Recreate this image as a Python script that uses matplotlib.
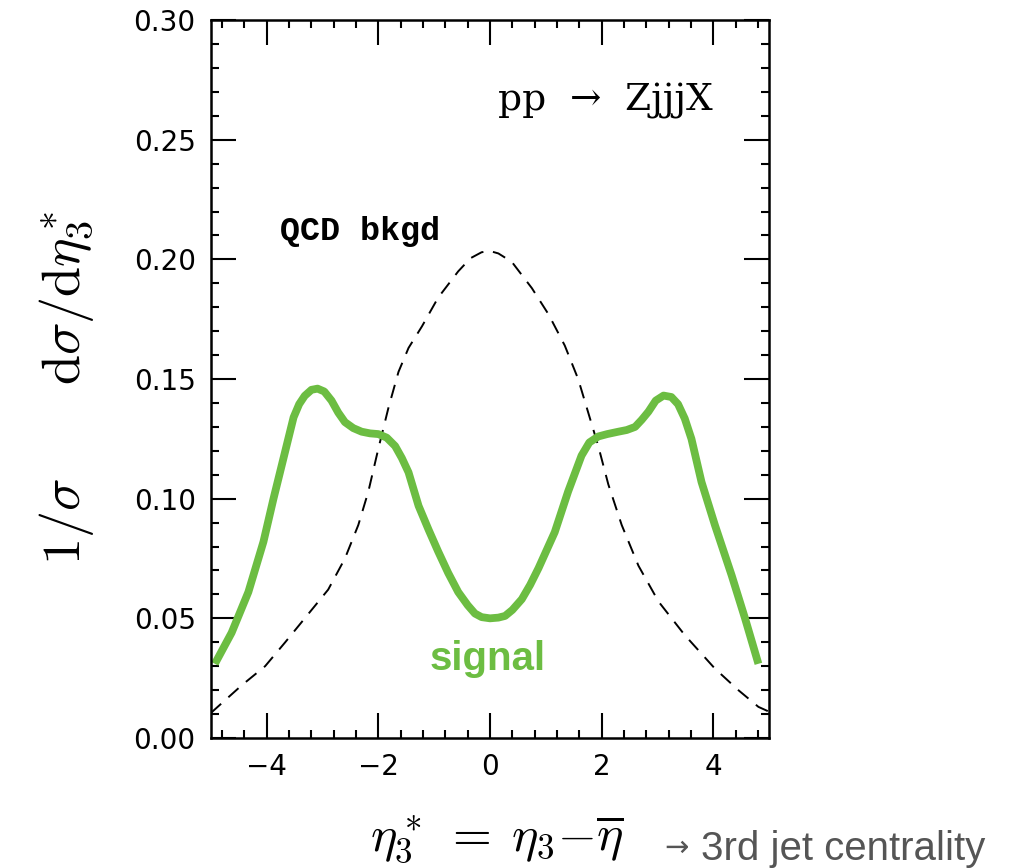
import matplotlib
matplotlib.use("Agg")
import matplotlib.pyplot as plt
from matplotlib.ticker import MultipleLocator

# signal curve (green)
sig_eta = [-4.93, -4.63, -4.33, -4.06, -3.88, -3.70, -3.52, -3.42, -3.32, -3.20,
           -3.09, -2.97, -2.84, -2.72, -2.60, -2.45, -2.30, -2.15, -2.00, -1.85,
           -1.70, -1.58, -1.46, -1.28, -1.10, -0.93, -0.75, -0.57, -0.40, -0.27,
           -0.15, 0.0, 0.15, 0.27, 0.40, 0.57, 0.72, 0.87, 1.16, 1.40,
           1.64, 1.78, 1.94, 2.10, 2.30, 2.45, 2.60, 2.72, 2.84, 2.97,
           3.11, 3.25, 3.37, 3.49, 3.61, 3.79, 4.03, 4.33, 4.57, 4.81]
sig_val = [0.031, 0.044, 0.061, 0.082, 0.100, 0.117, 0.134, 0.1395, 0.143, 0.1455,
           0.146, 0.1448, 0.141, 0.136, 0.132, 0.1295, 0.128, 0.1273, 0.127, 0.1255,
           0.122, 0.117, 0.111, 0.097, 0.087, 0.078, 0.069, 0.061, 0.0555, 0.052,
           0.0505, 0.050, 0.0503, 0.051, 0.0535, 0.058, 0.064, 0.071, 0.086, 0.103,
           0.118, 0.1235, 0.126, 0.127, 0.128, 0.1287, 0.130, 0.133, 0.1364, 0.141,
           0.1431, 0.1425, 0.1395, 0.1335, 0.125, 0.107, 0.089, 0.068, 0.050, 0.031]

# QCD background (dashed)
bkg_eta = [-5.0, -4.45, -4.03, -3.67, -3.32, -2.90, -2.60, -2.36, -2.18, -2.00,
           -1.82, -1.64, -1.46, -1.22, -0.93, -0.57, -0.35, -0.15, 0.0, 0.15,
           0.39, 0.75, 1.05, 1.34, 1.58, 1.76, 1.94, 2.12, 2.36, 2.66,
           3.02, 3.49, 4.03, 4.45, 4.81, 5.0]
bkg_val = [0.0105, 0.022, 0.030, 0.040, 0.050, 0.062, 0.075, 0.089, 0.103, 0.121,
           0.138, 0.153, 0.163, 0.172, 0.184, 0.195, 0.2005, 0.2030, 0.2035, 0.2025,
           0.199, 0.188, 0.177, 0.164, 0.150, 0.136, 0.122, 0.106, 0.089, 0.072,
           0.057, 0.043, 0.029, 0.020, 0.013, 0.011]

GREEN = "#6cbd42"

plt.rcParams["mathtext.fontset"] = "cm"

fig = plt.figure(figsize=(10.1, 8.68), dpi=100)
ax = fig.add_axes([0.2089, 0.1498, 0.5525, 0.827])

ax.plot(bkg_eta, bkg_val, color="black", lw=1.4, dashes=(7, 5))
ax.plot(sig_eta, sig_val, color=GREEN, lw=5.6, solid_capstyle="butt",
        solid_joinstyle="round")

ax.set_xlim(-5, 5)
ax.set_ylim(0, 0.30)
ax.xaxis.set_major_locator(MultipleLocator(2))
ax.xaxis.set_minor_locator(MultipleLocator(0.4))
ax.yaxis.set_major_locator(MultipleLocator(0.05))
ax.yaxis.set_minor_locator(MultipleLocator(0.01))
ax.yaxis.set_major_formatter(plt.FormatStrFormatter("%.2f"))
ax.tick_params(which="both", direction="in", top=True, right=True, width=1.5)
ax.tick_params(which="major", length=18)
ax.tick_params(which="minor", length=6)
ax.tick_params(axis="x", which="major", labelsize=20, pad=11)
ax.tick_params(axis="y", which="major", labelsize=20, pad=11)
for s in ax.spines.values():
    s.set_linewidth(1.8)

ax.text(0.14, 0.2624, "pp  \u2192  ZjjjX", family="DejaVu Serif", fontsize=27,
        ha="left", va="baseline")
ax.text(-3.76, 0.208, "QCD bkgd", family="Liberation Mono", fontweight="bold",
        fontsize=24, ha="left", va="baseline")
ax.text(-0.05, 0.0284, "signal", family="Liberation Sans", fontweight="bold",
        fontsize=29, color=GREEN, ha="center", va="baseline")

fig.text(66 / 1010, 1 - 388 / 868,
         r"$1/\sigma\quad\quad \mathrm{d}\sigma/\mathrm{d}\eta_3^*$",
         rotation=90, fontsize=39, ha="center", va="center")
fig.text(370 / 1010, 1 - 850 / 868, r"$\eta_3^*\;=\;\eta_3{-}\overline{\eta}$",
         fontsize=36, ha="left", va="baseline")
fig.text(664 / 1010, 1 - 856 / 868, "\u2192", family="DejaVu Sans",
         fontsize=21, color="#555555", ha="left", va="baseline")
fig.text(701 / 1010, 1 - 860 / 868, "3rd jet centrality",
         family="Liberation Sans", fontsize=29, color="#555555",
         ha="left", va="baseline")

fig.savefig("out.png", dpi=100)
